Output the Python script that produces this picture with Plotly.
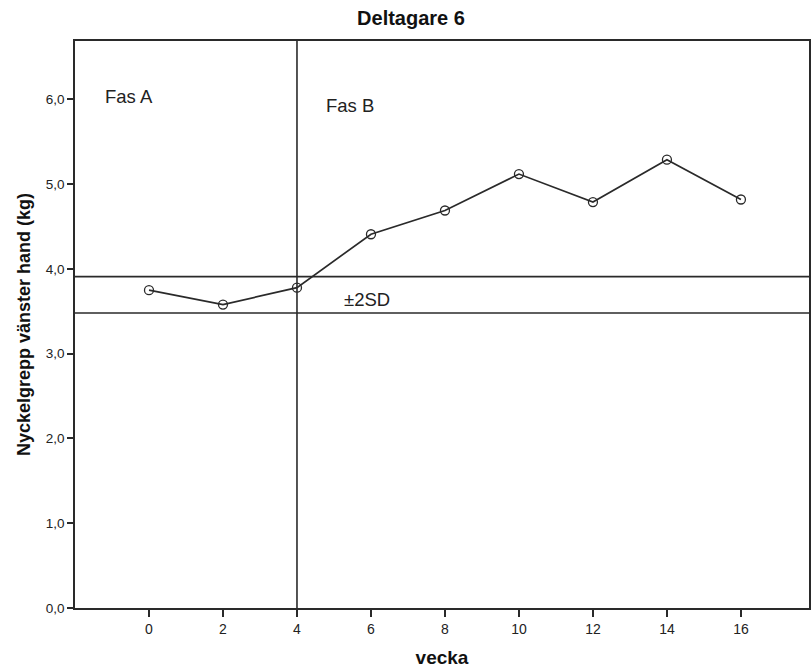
import plotly.graph_objects as go

weeks = [0, 2, 4, 6, 8, 10, 12, 14, 16]
grip_left = [3.75, 3.58, 3.78, 4.41, 4.69, 5.12, 4.79, 5.29, 4.82]
sd_upper = 3.91
sd_lower = 3.48
phase_change = 4
x_ticks = [0, 2, 4, 6, 8, 10, 12, 14, 16]
y_ticks = [0, 1, 2, 3, 4, 5, 6]
y_ticklabels = ["0,0", "1,0", "2,0", "3,0", "4,0", "5,0", "6,0"]

W, H = 811, 668
L, R, T, B = 75, 0, 41, 60
xr = [-2.0, 17.84]
yr = [0, 6.69]

C = "#2a2a2a"
FONT = "Liberation Sans, Arial, sans-serif"

fig = go.Figure()
fig.add_trace(go.Scatter(
    x=weeks, y=grip_left, mode="lines+markers",
    line=dict(color=C, width=1.7),
    marker=dict(symbol="circle-open", size=9, color=C, line=dict(width=1.3, color=C)),
    showlegend=False, cliponaxis=False,
))

for yv in (sd_upper, sd_lower):
    fig.add_shape(type="line", xref="paper", x0=0, x1=1, yref="y", y0=yv, y1=yv,
                  line=dict(color=C, width=1.6), layer="below")
fig.add_shape(type="line", xref="x", x0=phase_change, x1=phase_change, yref="paper", y0=0, y1=1,
              line=dict(color=C, width=1.6), layer="below")

fig.add_annotation(x=-1.24, y=6.03, text="Fas A", showarrow=False, xanchor="left", yanchor="middle",
                   font=dict(family=FONT, size=18.5, color="#222"))
fig.add_annotation(x=4.72, y=5.93, text="Fas B", showarrow=False, xanchor="left", yanchor="middle",
                   font=dict(family=FONT, size=18.5, color="#222"))
fig.add_annotation(x=5.23, y=3.64, text="±2SD", showarrow=False, xanchor="left", yanchor="middle",
                   font=dict(family=FONT, size=18.5, color="#222"))

fig.update_layout(
    width=W, height=H,
    margin=dict(l=L, r=R, t=T, b=B),
    paper_bgcolor="white", plot_bgcolor="white",
    title=dict(text="<b>Deltagare 6</b>", x=411 / W, xanchor="center", y=1 - 18 / H, yanchor="middle",
               font=dict(family=FONT, size=20, color="#111")),
    xaxis=dict(range=xr, tickvals=x_ticks, ticks="outside", ticklen=7, tickwidth=1.5, tickcolor=C,
               showline=True, linecolor=C, linewidth=1.6, mirror=True, showgrid=False, zeroline=False,
               tickfont=dict(family=FONT, size=14, color="#222"),
               title=dict(text="<b>vecka</b>", font=dict(family=FONT, size=19, color="#111"), standoff=16)),
    yaxis=dict(range=yr, tickvals=y_ticks, ticktext=y_ticklabels, ticks="outside", ticklen=6, tickwidth=1.5,
               tickcolor=C, showline=True, linecolor=C, linewidth=1.6, mirror=True, showgrid=False,
               zeroline=False, tickfont=dict(family=FONT, size=13.5, color="#222"),
               title=dict(text="<b>Nyckelgrepp vänster hand (kg)</b>", font=dict(family=FONT, size=18, color="#111"),
                          standoff=10)),
)

fig.write_html("out.html", config={"displayModeBar": False})
with open("out.html", "r", encoding="utf-8") as f:
    html = f.read()
html = html.replace("<head>", "<head><style>html,body{margin:0;padding:0;overflow:hidden;}</style>", 1)
with open("out.html", "w", encoding="utf-8") as f:
    f.write(html)
